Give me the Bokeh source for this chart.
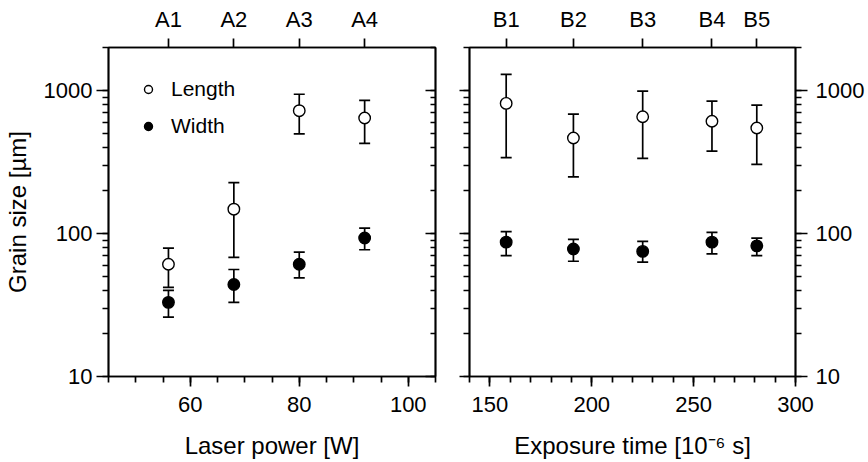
from bokeh.plotting import figure
from bokeh.layouts import row
from bokeh.models import (ColumnDataSource, Range1d, LogAxis, LinearAxis, FixedTicker,
                          SingleIntervalTicker, LogTicker, Whisker, TeeHead, Legend, LegendItem,
                          PrintfTickFormatter)
from bokeh.embed import file_html
from bokeh.resources import INLINE

# ---- data ----
a_x = [56, 68, 80, 92]
a_labels = ["A1", "A2", "A3", "A4"]
a_len = [61, 148, 723, 642]
a_len_lo = [42, 68, 498, 427]
a_len_hi = [79, 227, 942, 853]
a_wid = [33, 44, 61, 93]
a_wid_lo = [26, 33, 49, 77]
a_wid_hi = [40, 56, 74, 109]

b_x = [158, 191, 225, 259, 281]
b_labels = ["B1", "B2", "B3", "B4", "B5"]
b_len = [813, 466, 656, 610, 547]
b_len_lo = [339, 249, 335, 377, 305]
b_len_hi = [1297, 684, 990, 843, 791]
b_wid = [87, 78, 75, 87, 82]
b_wid_lo = [70, 64, 63, 72, 70]
b_wid_hi = [103, 91, 88, 102, 93]

FONT = "Liberation Sans"
TICK_FS = "22px"
TITLE_FS = "24px"
LW = 1.7


def style_axis(ax, labels=True, inward=False, major=12, minor=6, standoff=6):
    ax.axis_line_width = LW
    ax.axis_line_color = "black"
    ax.major_tick_line_width = LW
    ax.minor_tick_line_width = LW
    ax.major_tick_line_color = "black"
    ax.minor_tick_line_color = "black"
    if inward:
        ax.major_tick_in = major
        ax.major_tick_out = 0
        ax.minor_tick_in = minor
        ax.minor_tick_out = 0
    else:
        ax.major_tick_in = 0
        ax.major_tick_out = major
        ax.minor_tick_in = 0
        ax.minor_tick_out = minor
    ax.major_label_text_font = FONT
    ax.major_label_text_color = "black"
    if labels:
        ax.major_label_text_font_size = TICK_FS
        ax.major_label_standoff = standoff
    else:
        ax.major_label_text_font_size = "1px"
        ax.major_label_text_alpha = 0
        ax.major_label_standoff = 0
    ax.axis_label_text_font = FONT
    ax.axis_label_text_font_size = TITLE_FS
    ax.axis_label_text_font_style = "normal"
    ax.axis_label_text_color = "black"


def make_panel(xs, labels, ln, ln_lo, ln_hi, wd, wd_lo, wd_hi, xr, interval, nminor,
               width, bl, br, xlabel, left_labels):
    p = figure(width=width, height=462, x_range=Range1d(*xr), y_range=Range1d(10, 2000),
               y_axis_type="log", output_backend="svg", toolbar_location=None,
               min_border_left=bl, min_border_right=br, min_border_top=47, min_border_bottom=86)
    p.grid.visible = False
    p.outline_line_color = "black"
    p.outline_line_width = LW

    # bottom axis
    xa = p.xaxis[0]
    xa.ticker = SingleIntervalTicker(interval=interval, num_minor_ticks=nminor)
    xa.axis_label = xlabel
    style_axis(xa, major=10, minor=6, standoff=10)
    xa.axis_label_standoff = 17

    # left axis
    ya = p.yaxis[0]
    ya.ticker = LogTicker(num_minor_ticks=10)
    ya.formatter = PrintfTickFormatter(format="%d")
    if left_labels:
        ya.axis_label = "Grain size [µm]"
        style_axis(ya, major=12, minor=6, standoff=4)
        ya.axis_label_standoff = 10
    else:
        style_axis(ya, labels=False, major=10, minor=6)

    # right axis
    ra = LogAxis(ticker=LogTicker(num_minor_ticks=10), formatter=PrintfTickFormatter(format="%d"))
    if left_labels:
        style_axis(ra, labels=False, inward=True, major=10, minor=5)
    else:
        style_axis(ra, labels=True, major=12, minor=6, standoff=8)
    p.add_layout(ra, "right")

    # top axis
    ta = LinearAxis(ticker=FixedTicker(ticks=xs, minor_ticks=[]),
                    major_label_overrides={x: l for x, l in zip(xs, labels)})
    style_axis(ta, major=9, minor=0, standoff=7)
    p.add_layout(ta, "above")

    src_l = ColumnDataSource(dict(x=xs, y=ln, lo=ln_lo, hi=ln_hi))
    src_w = ColumnDataSource(dict(x=xs, y=wd, lo=wd_lo, hi=wd_hi))
    for src in (src_l, src_w):
        wk = Whisker(source=src, base="x", lower="lo", upper="hi", dimension="height",
                     line_color="black", line_width=LW, level="underlay",
                     upper_head=TeeHead(size=11, line_width=LW, line_color="black"),
                     lower_head=TeeHead(size=11, line_width=LW, line_color="black"))
        p.add_layout(wk)
    r_len = p.scatter("x", "y", source=src_l, size=11.5, marker="circle",
                      fill_color="white", line_color="black", line_width=1.4)
    r_wid = p.scatter("x", "y", source=src_w, size=11.5, marker="circle",
                      fill_color="black", line_color="black", line_width=1.4)
    return p, r_len, r_wid


p1, r1l, r1w = make_panel(a_x, a_labels, a_len, a_len_lo, a_len_hi, a_wid, a_wid_lo, a_wid_hi,
                          (45, 105), 20, 4, 452, 108, 17, "Laser power [W]", True)
p2, r2l, r2w = make_panel(b_x, b_labels, b_len, b_len_lo, b_len_hi, b_wid, b_wid_lo, b_wid_hi,
                          (140, 300), 50, 5, 416, 17, 73, "Exposure time [10\u207b\u2076 s]", False)

legend = Legend(items=[LegendItem(label="Length", renderers=[r1l]),
                       LegendItem(label="Width", renderers=[r1w])],
                location=(30, 238), orientation="vertical",
                label_text_font=FONT, label_text_font_size="21px", label_text_color="black",
                label_standoff=13, glyph_width=20, glyph_height=24, label_height=24,
                spacing=13, padding=0, margin=0,
                border_line_color=None, background_fill_alpha=0)
p1.add_layout(legend)

layout = row(p1, p2)
open("out.html", "w").write(file_html(layout, INLINE))
